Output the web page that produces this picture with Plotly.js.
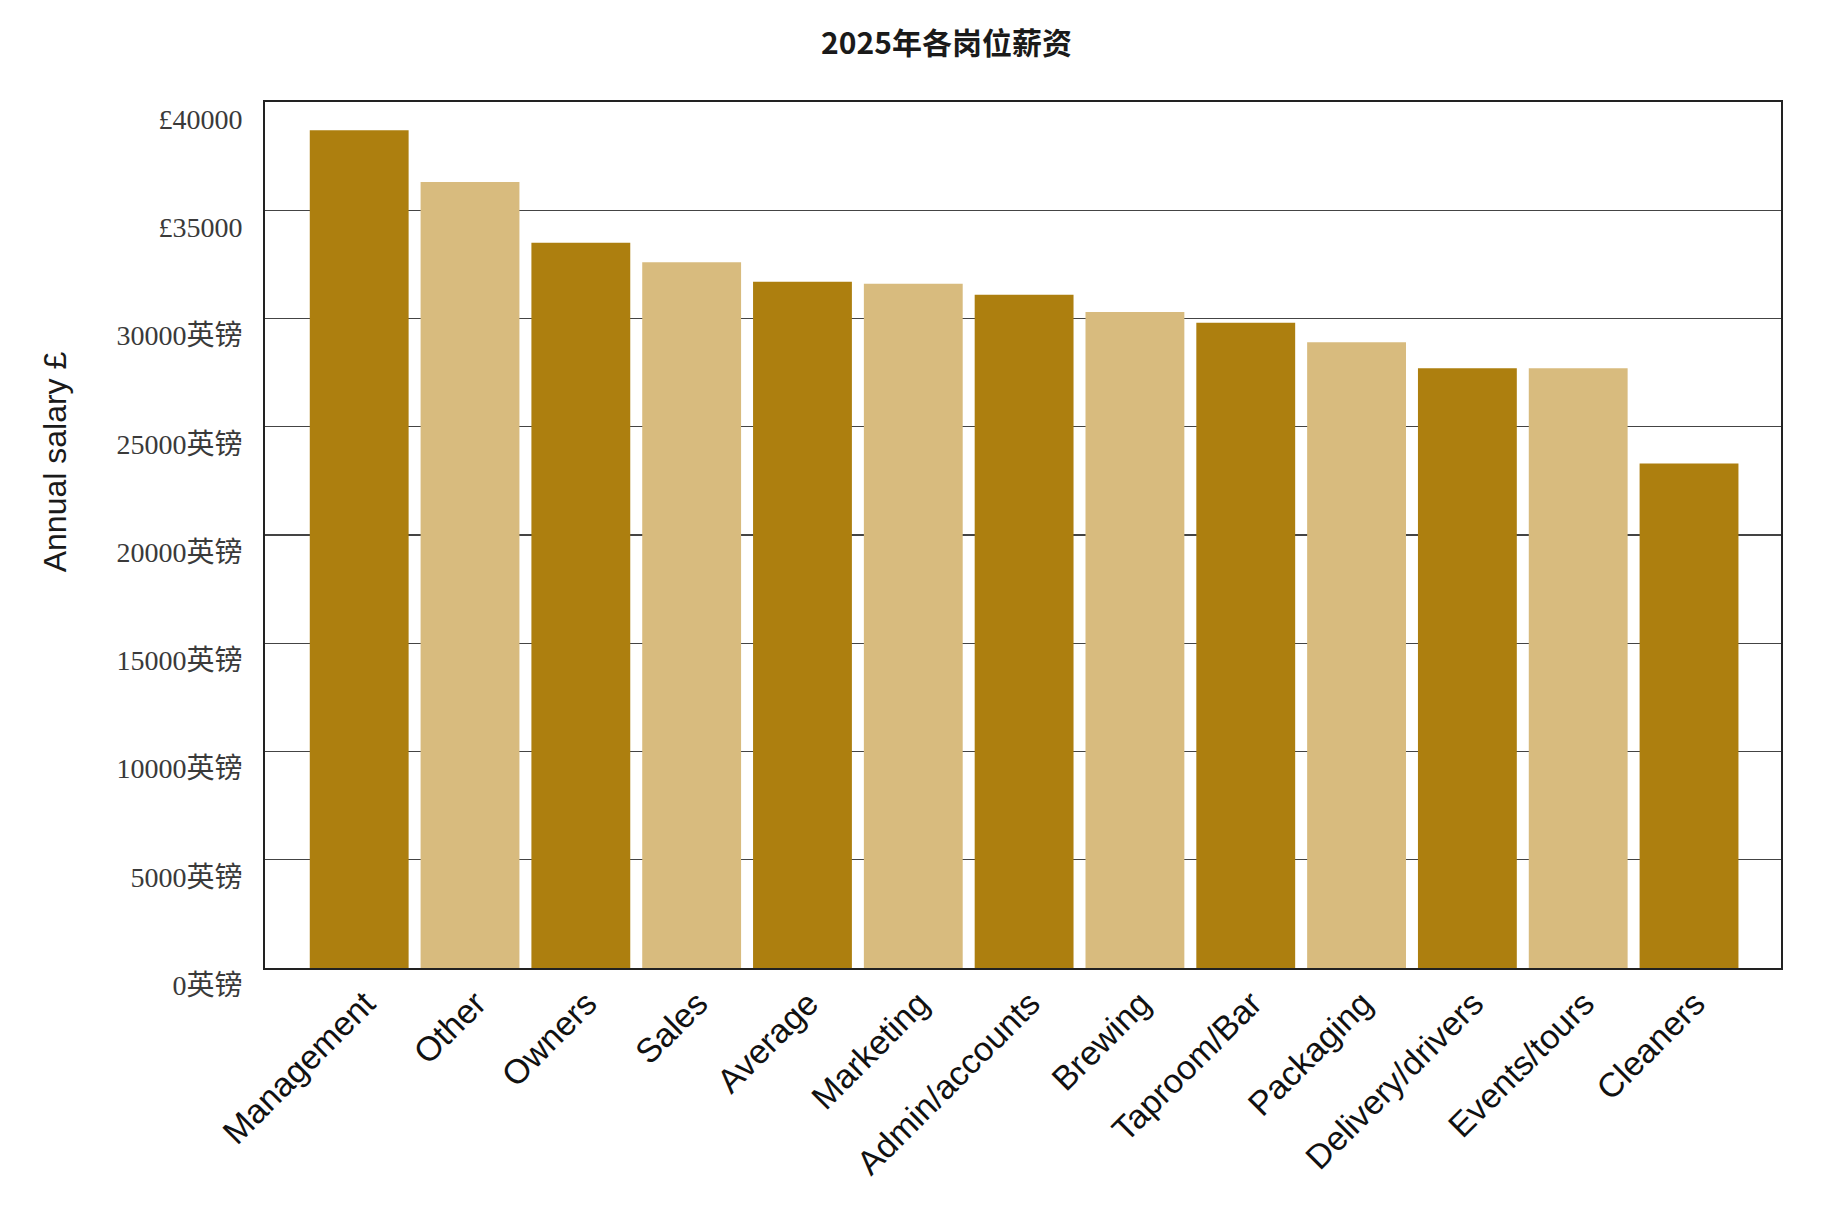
<!DOCTYPE html>
<html>
<head>
<meta charset="utf-8">
<script src="https://cdn.plot.ly/plotly-3.0.1.min.js"></script>
<style>
  html, body { margin: 0; padding: 0; background: #fff; }
  #chart { width: 1845px; height: 1209px; }
</style>
</head>
<body>
<div id="chart"></div>
<script>
// ---- Data ----
const categories = ["Management", "Other", "Owners", "Sales", "Average", "Marketing",
  "Admin/accounts", "Brewing", "Taproom/Bar", "Packaging", "Delivery/drivers",
  "Events/tours", "Cleaners"];
const salaries = [38700, 36300, 33500, 32600, 31700, 31600, 31100, 30300, 29800, 28900, 27700, 27700, 23300];
const yTickValues = [0, 5000, 10000, 15000, 20000, 25000, 30000, 35000, 40000];
const yTickLabels = ["0英镑", "5000英镑", "10000英镑", "15000英镑", "20000英镑", "25000英镑", "30000英镑", "£35000", "£40000"];
const titleText = "2025年各岗位薪资";
const yTitleText = "Annual salary £";

// ---- Styles ----
const darkGold = "#AD7F0F";
const lightGold = "#D8BB7E";
const barColors = categories.map((c, i) => (i % 2 === 0 ? darkGold : lightGold));

const trace = {
  type: "bar",
  x: categories,
  y: salaries,
  marker: { color: barColors, line: { width: 0 } },
  hoverinfo: "x+y"
};

const layout = {
  width: 1845,
  height: 1209,
  paper_bgcolor: "#ffffff",
  plot_bgcolor: "#ffffff",
  margin: { l: 265, r: 64, t: 101.5, b: 240.7, pad: 0 },
  bargap: 0.108,
  showlegend: false,
  title: {
    text: titleText,
    font: { family: "Noto Sans CJK SC, Noto Sans, sans-serif", size: 30, color: "#1a1a1a", weight: "bold" },
    xref: "container", x: 0.513, xanchor: "center",
    yref: "container", y: 0.964, yanchor: "middle"
  },
  xaxis: {
    type: "category",
    range: [-0.85, 12.83],
    tickangle: -45,
    tickfont: { family: "Liberation Sans, Arial, sans-serif", size: 34, color: "#111" },
    ticklabelshift: 6,
    showgrid: false,
    showline: true,
    linecolor: "#222",
    linewidth: 2,
    mirror: true,
    ticks: "",
    fixedrange: true
  },
  yaxis: {
    range: [0, 40000],
    tickmode: "array",
    tickvals: yTickValues,
    ticktext: yTickLabels,
    tickfont: { family: "Liberation Serif, Noto Sans CJK SC, serif", size: 28, color: "#3a3a3a" },
    ticklabelshift: 17,
    ticklabelstandoff: 15,
    showgrid: true,
    gridcolor: "#444",
    gridwidth: 1.3,
    zeroline: false,
    showline: true,
    linecolor: "#222",
    linewidth: 2,
    mirror: true,
    ticks: "",
    fixedrange: true
  },
  annotations: [{
    text: yTitleText,
    xref: "paper", yref: "paper",
    x: -0.1385, y: 0.584,
    xanchor: "center", yanchor: "middle",
    textangle: -90,
    showarrow: false,
    font: { family: "Liberation Sans, Arial, sans-serif", size: 32, color: "#1a1a1a" }
  }]
};

Plotly.newPlot("chart", [trace], layout, { displayModeBar: false, staticPlot: true });
</script>
</body>
</html>
